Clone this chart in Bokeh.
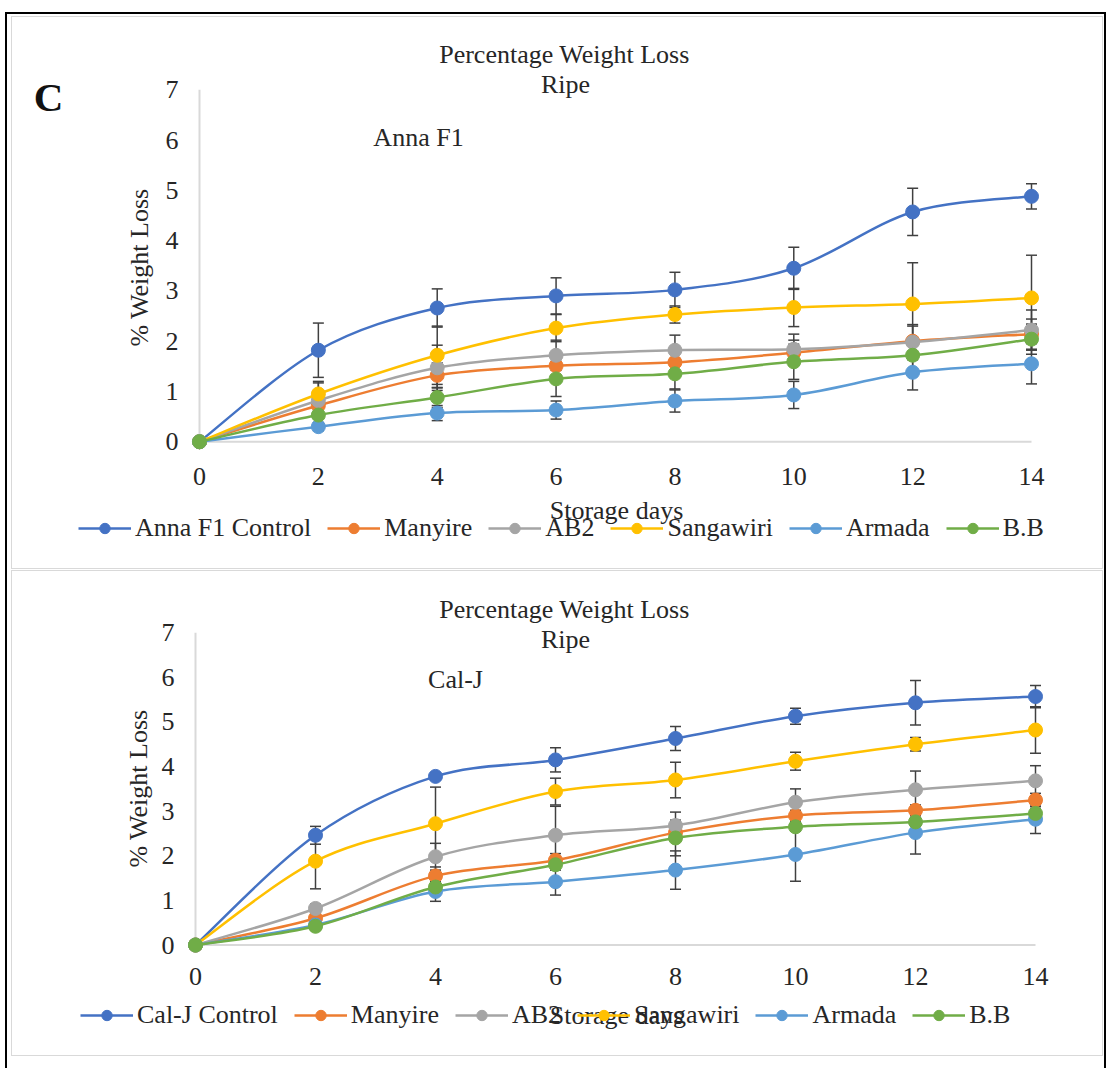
import math
from bokeh.plotting import figure
from bokeh.models import (Range1d, FixedTicker, Label, Legend, LegendItem,
                          Whisker, TeeHead, ColumnDataSource)
from bokeh.layouts import column
from bokeh.embed import file_html
from bokeh.resources import INLINE

# ---------------- data ----------------
days = [0, 2, 4, 6, 8, 10, 12, 14]
x_ticks = [0, 2, 4, 6, 8, 10, 12, 14]
y_ticks = [0, 1, 2, 3, 4, 5, 6, 7]
treatments = ["Manyire", "AB2", "Sangawiri", "Armada", "B.B"]
series_colors = ["#4472C4", "#ED7D31", "#A5A5A5", "#FFC000", "#5B9BD5", "#70AD47"]

# Panel 1: Anna F1
anna_control = [0, 1.82, 2.66, 2.90, 3.02, 3.45, 4.57, 4.88]
anna_control_err = [0, 0.54, 0.38, 0.36, 0.35, 0.42, 0.47, 0.25]
anna_manyire = [0, 0.72, 1.32, 1.51, 1.58, 1.77, 2.00, 2.14]
anna_manyire_err = [0, 0.20, 0.25, 0.20, 0.20, 0.25, 0.30, 0.30]
anna_ab2 = [0, 0.82, 1.47, 1.72, 1.82, 1.84, 1.98, 2.22]
anna_ab2_err = [0, 0.35, 0.45, 0.30, 0.30, 0.30, 0.35, 0.40]
anna_sangawiri = [0, 0.95, 1.72, 2.26, 2.53, 2.67, 2.74, 2.86]
anna_sangawiri_err = [0, 0.25, 0.58, 0.27, 0.17, 0.38, 0.82, 0.85]
anna_armada = [0, 0.30, 0.57, 0.63, 0.81, 0.93, 1.38, 1.55]
anna_armada_err = [0, 0.08, 0.15, 0.18, 0.22, 0.27, 0.35, 0.40]
anna_bb = [0, 0.53, 0.88, 1.25, 1.35, 1.59, 1.72, 2.04]
anna_bb_err = [0, 0.15, 0.20, 0.35, 0.30, 0.35, 0.30, 0.30]

# Panel 2: Cal-J
calj_control = [0, 2.46, 3.78, 4.15, 4.63, 5.13, 5.43, 5.57]
calj_control_err = [0, 0.20, 0.08, 0.27, 0.27, 0.18, 0.50, 0.25]
calj_manyire = [0, 0.60, 1.55, 1.90, 2.52, 2.90, 3.02, 3.25]
calj_manyire_err = [0, 0.08, 0.20, 0.15, 0.15, 0.12, 0.12, 0.15]
calj_ab2 = [0, 0.82, 1.98, 2.46, 2.68, 3.20, 3.48, 3.68]
calj_ab2_err = [0, 0.10, 0.30, 0.65, 0.30, 0.30, 0.42, 0.34]
calj_sangawiri = [0, 1.88, 2.72, 3.44, 3.70, 4.12, 4.50, 4.82]
calj_sangawiri_err = [0, 0.62, 0.82, 0.30, 0.40, 0.20, 0.15, 0.52]
calj_armada = [0, 0.45, 1.20, 1.42, 1.68, 2.03, 2.52, 2.82]
calj_armada_err = [0, 0.08, 0.22, 0.30, 0.43, 0.60, 0.48, 0.32]
calj_bb = [0, 0.42, 1.30, 1.80, 2.40, 2.65, 2.76, 2.95]
calj_bb_err = [0, 0.08, 0.12, 0.12, 0.40, 0.10, 0.10, 0.10]

FONT = "Liberation Serif"
TXT = "#262626"
CANVAS_LEFT = 12          # page x of each figure's canvas
CANVAS_W = 1092


def smooth_segments(xs, ys):
    """Cubic Bezier pieces through the data points (Excel-style smoothed line)."""
    n = len(xs)
    d = dict(x0=[], y0=[], x1=[], y1=[], cx0=[], cy0=[], cx1=[], cy1=[])
    for i in range(n - 1):
        a = max(i - 1, 0)
        b = min(i + 2, n - 1)
        d["x0"].append(xs[i]); d["y0"].append(ys[i])
        d["x1"].append(xs[i + 1]); d["y1"].append(ys[i + 1])
        d["cx0"].append(xs[i] + (xs[i + 1] - xs[a]) / 6.0)
        d["cy0"].append(ys[i] + (ys[i + 1] - ys[a]) / 6.0)
        d["cx1"].append(xs[i + 1] - (xs[b] - xs[i]) / 6.0)
        d["cy1"].append(ys[i + 1] - (ys[b] - ys[i]) / 6.0)
    return d


def make_panel(names, means, errs, variety, cfg):
    top, h = cfg["canvas_top"], cfg["h"]
    ch = h - 2  # drawing height inside the 1px panel border
    x0_px, x14_px = cfg["x0_px"], cfg["x14_px"]
    y0_px, y7_px = cfg["y0_px"], cfg["y7_px"]
    xs = (x14_px - x0_px) / (x_ticks[-1] - x_ticks[0])
    ys = (y0_px - y7_px) / (y_ticks[-1] - y_ticks[0])
    x_start = -(x0_px - CANVAS_LEFT) / xs
    x_end = x_ticks[-1] + (CANVAS_LEFT + CANVAS_W - x14_px) / xs
    y_end = y_ticks[-1] + (y7_px - top) / ys
    y_start = -(top + ch - y0_px) / ys

    p = figure(width=CANVAS_W, height=h, output_backend="svg",
               toolbar_location=None,
               x_range=Range1d(x_start, x_end), y_range=Range1d(y_start, y_end),
               min_border=0, styles={"border": "1px solid #d9d9d9"})
    p.outline_line_color = None
    p.grid.visible = False
    p.background_fill_color = "white"
    p.border_fill_color = "white"
    for ax in (p.xaxis[0], p.yaxis[0]):
        ax.fixed_location = 0
        ax.axis_line_color = None
        ax.major_tick_line_color = None
        ax.minor_tick_line_color = None
        ax.major_label_text_font = FONT
        ax.major_label_text_font_size = "26px"
        ax.major_label_text_color = TXT
    p.xaxis[0].ticker = FixedTicker(ticks=x_ticks)
    p.yaxis[0].ticker = FixedTicker(ticks=y_ticks)
    p.xaxis[0].major_label_standoff = cfg["xstand"]
    p.yaxis[0].major_label_standoff = cfg["ystand"]

    # axis lines (Excel style, light gray, from 0 to max)
    p.segment(x0=[x_ticks[0], x_ticks[0]], y0=[y_ticks[0], y_ticks[0]],
              x1=[x_ticks[-1], x_ticks[0]], y1=[y_ticks[0], y_ticks[-1]],
              line_color="#d9d9d9", line_width=2)

    items = []
    for name, m, e, c in zip(names, means, errs, series_colors):
        src = ColumnDataSource(dict(x=days, y=m,
                                    upper=[a + b for a, b in zip(m, e)],
                                    lower=[a - b for a, b in zip(m, e)]))
        w = Whisker(source=src, base="x", upper="upper", lower="lower",
                    line_color="#404040", line_width=1.5,
                    upper_head=TeeHead(size=11, line_color="#404040", line_width=1.5),
                    lower_head=TeeHead(size=11, line_color="#404040", line_width=1.5))
        p.add_layout(w)
        seg = ColumnDataSource(smooth_segments(days, m))
        r_line = p.bezier(x0="x0", y0="y0", x1="x1", y1="y1", cx0="cx0", cy0="cy0",
                          cx1="cx1", cy1="cy1", source=seg, line_color=c, line_width=2.5)
        r_pts = p.scatter(x="x", y="y", source=src, size=14, fill_color=c, line_color=c)
        items.append(LegendItem(label=name, renderers=[r_line, r_pts]))

    canvas_bottom = top + ch
    legend = Legend(items=items, orientation="horizontal",
                    location=(cfg["leg_x"] - CANVAS_LEFT, canvas_bottom - cfg["leg_bottom"]),
                    label_text_font=FONT, label_text_font_size="26px",
                    label_text_color=TXT, glyph_width=53, glyph_height=26,
                    label_height=26, label_standoff=4, spacing=16,
                    padding=0, margin=0, border_line_color=None,
                    background_fill_alpha=0, inactive_fill_alpha=0)
    p.add_layout(legend)

    def txt(text, px, py, size=26, angle=0.0, bold=False, color=TXT):
        p.add_layout(Label(x=px - CANVAS_LEFT, y=canvas_bottom - py,
                           x_units="screen", y_units="screen", text=text,
                           text_font=FONT, text_font_size=f"{size}px",
                           text_color=color, text_align="center",
                           text_baseline="middle", angle=angle,
                           text_font_style="bold" if bold else "normal"))

    txt("Percentage Weight Loss", 564, cfg["title_y"])
    txt("Ripe", 565, cfg["ripe_y"])
    txt(variety, cfg["var_x"], cfg["var_y"])
    txt("% Weight Loss", cfg["ylab_x"], cfg["ylab_y"], angle=math.pi / 2)
    txt("Storage days", 616, cfg["xlab_y"])
    if cfg.get("letter"):
        txt(cfg["letter"], 48, 96, size=41, bold=True, color="#111111")
    return p


top_cfg = dict(canvas_top=19, h=553,
               x0_px=199, x14_px=1031, y0_px=441.7, y7_px=91,
               xstand=20, ystand=15, leg_x=78, leg_bottom=543,
               title_y=54, ripe_y=84, var_x=418, var_y=137,
               ylab_x=139, ylab_y=267, xlab_y=510, letter="C")
bot_cfg = dict(canvas_top=571, h=486,
               x0_px=195, x14_px=1035, y0_px=943, y7_px=632,
               xstand=17, ystand=15, leg_x=80, leg_bottom=1028,
               title_y=607, ripe_y=637, var_x=455, var_y=677,
               ylab_x=138, ylab_y=786, xlab_y=1013)

p1 = make_panel(["Anna F1 Control"] + treatments,
                [anna_control, anna_manyire, anna_ab2, anna_sangawiri, anna_armada, anna_bb],
                [anna_control_err, anna_manyire_err, anna_ab2_err, anna_sangawiri_err,
                 anna_armada_err, anna_bb_err],
                "Anna F1", top_cfg)
p2 = make_panel(["Cal-J Control"] + treatments,
                [calj_control, calj_manyire, calj_ab2, calj_sangawiri, calj_armada, calj_bb],
                [calj_control_err, calj_manyire_err, calj_ab2_err, calj_sangawiri_err,
                 calj_armada_err, calj_bb_err],
                "Cal-J", bot_cfg)

layout = column(p1, p2, spacing=1,
                styles={"border": "2px solid black", "padding": "2px 1px 20px 4px",
                        "background-color": "white"},
                margin=(12, 0, 0, 5))

open("out.html", "w").write(file_html(layout, INLINE))
